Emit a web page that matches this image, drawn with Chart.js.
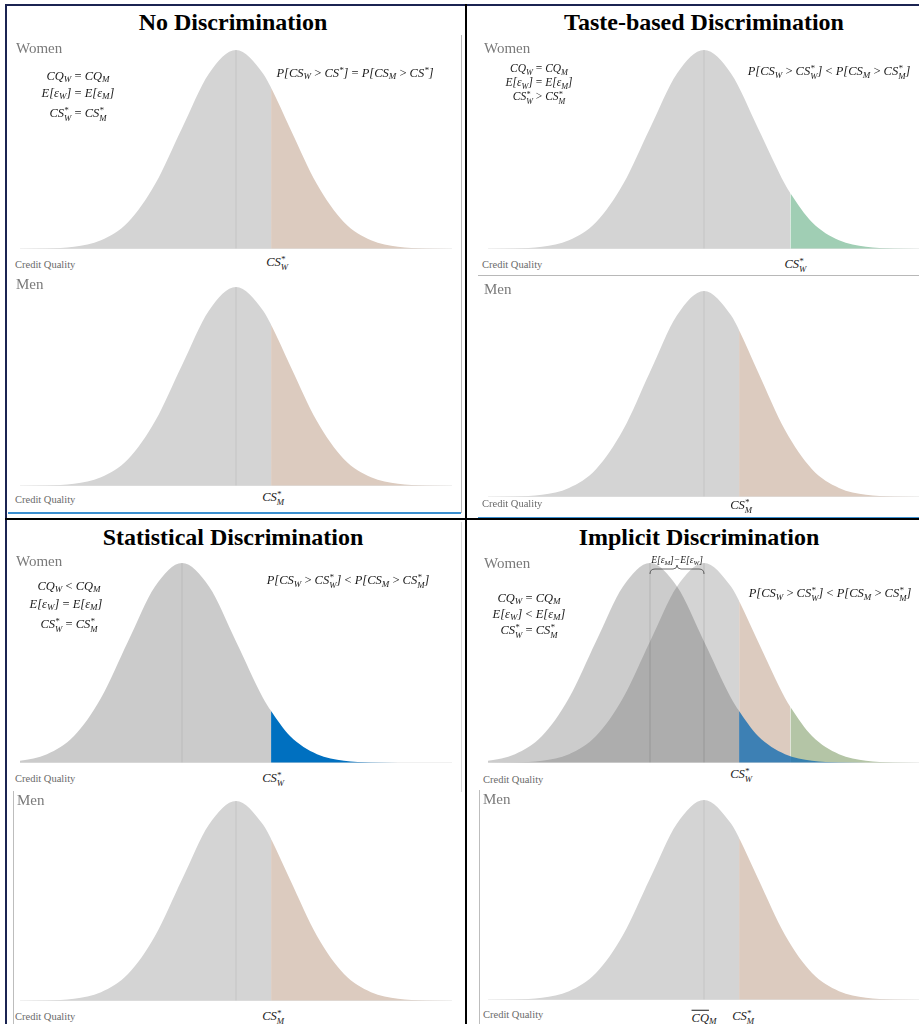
<!DOCTYPE html>
<html>
<head>
<meta charset="utf-8">
<script src="https://cdn.jsdelivr.net/npm/chart.js@4.4.1/dist/chart.umd.min.js"></script>
<style>
  body { margin: 0; background: #fff; }
  #fig { position: relative; width: 919px; height: 1024px; overflow: hidden; font-family: "Liberation Serif", serif; }
  #fig canvas { position: absolute; }
  .title { position: absolute; font-weight: bold; font-size: 24px; color: #000; transform: translateX(-50%); white-space: nowrap; line-height: 1; }
  .grp { position: absolute; font-size: 15px; color: #7a7a7a; line-height: 1; }
  .cq { position: absolute; font-size: 10.5px; color: #6a6a6a; line-height: 1; white-space: nowrap; }
  .math { position: absolute; font-style: italic; font-size: 12.5px; color: #1a1a1a; white-space: nowrap; line-height: 1; transform: translate(-50%, -50%); }
  .math sub { font-size: 0.72em; vertical-align: -0.3em; line-height: 0; }
  .math sup { font-size: 0.72em; vertical-align: 0.45em; line-height: 0; }
  .math .op { font-style: normal; }
  .small { font-size: 11.5px; }
  .ss { display: inline-block; font-size: 0.7em; line-height: 0.9; vertical-align: -0.45em; text-align: left; }
  .line { position: absolute; }
</style>
</head>
<body>
<div id="fig"></div>
<script>
// shape of the bell curves (height relative to the peak)
const gridZ = [-4, -3.5, -3, -2.5, -2, -1.5, -1, -0.5, 0, 0.5, 1, 1.5, 2, 2.5, 3, 3.5, 4];
const bellHeight = [0.000, 0.002, 0.011, 0.044, 0.135, 0.325, 0.607, 0.882, 1.000, 0.882, 0.607, 0.325, 0.135, 0.044, 0.011, 0.002, 0.000];

// thresholds on the credit quality axis (0 = men's mean)
const csMen = 0.65;
const csWomenTaste = 1.6;
const meanWomenStat = -1.0;
const meanWomenImplicit = -1.0;

// curve heights read at the thresholds
const hCentredAtCsMen = 0.81;
const hCentredAtCsTaste = 0.28;
const hShiftedAtCsMen = 0.26;

const gray = '#d4d4d4';
const grayDark = '#cbcbcb';
const tan = '#dccbbf';
const green = '#a0ceb4';
const blue = '#0070c0';

const fig = document.getElementById('fig');

function mathHtml(s) {
  return s
    .replace(/\^\*_([WM])/g, '<span class="ss">*<br>$1</span>')
    .replace(/\^\*/g, '<sup>*</sup>')
    .replace(/_([WM])/g, '<sub>$1</sub>')
    .replace(/ (=|&lt;|&gt;) /g, ' <span class="op">$1</span> ');
}

function addDiv(cls, html, style) {
  const d = document.createElement('div');
  d.className = cls;
  d.innerHTML = html;
  Object.assign(d.style, style);
  fig.appendChild(d);
  return d;
}

function curvePoints(mean, cuts) {
  const pts = gridZ.map((z, i) => ({ x: z + mean, y: bellHeight[i] }));
  cuts.forEach(c => pts.push({ x: c.x, y: c.h }));
  return pts.sort((a, b) => a.x - b.x);
}

function bandColor(bands, x) {
  let c = bands[0].color;
  bands.forEach(b => { if (x >= b.from - 1e-9) c = b.color; });
  return c;
}

function drawPanel(box, curves, means) {
  const cv = document.createElement('canvas');
  cv.width = 432;
  cv.height = box.base - box.peak + 4;
  cv.style.left = box.left + 'px';
  cv.style.top = (box.peak - 2) + 'px';
  fig.appendChild(cv);

  const datasets = [];
  datasets.push({ data: [{ x: -4, y: 0 }, { x: 4, y: 0 }], borderColor: '#e2e2e2', borderWidth: 1, pointRadius: 0, fill: false, order: 0 });
  means.forEach(m => datasets.push({
    data: [{ x: m, y: 0 }, { x: m, y: 1 }], borderColor: box.meanColor || 'rgba(0,0,0,0.07)', borderWidth: 1, pointRadius: 0, fill: false, order: 1
  }));
  curves.forEach((c, k) => datasets.push({
    data: c.points,
    backgroundColor: c.bands[0].color,
    borderWidth: 0,
    pointRadius: 0,
    fill: 'origin',
    cubicInterpolationMode: 'monotone',
    order: 2 + k,
    segment: { backgroundColor: ctx => bandColor(c.bands, ctx.p0.parsed.x) }
  }));

  return new Chart(cv, {
    type: 'line',
    data: { datasets },
    options: {
      responsive: false,
      animation: false,
      events: [],
      layout: { padding: { top: 2, bottom: 2, left: 0, right: 0 } },
      scales: {
        x: { type: 'linear', min: -4, max: 4, display: false },
        y: { min: 0, max: 1, display: false }
      },
      plugins: { legend: { display: false }, tooltip: { enabled: false } }
    }
  });
}

function axisLabel(chart, box, value, text, dx) {
  const px = box.left + chart.scales.x.getPixelForValue(value) + (dx || 0);
  addDiv('math', mathHtml(text), { left: px + 'px', top: box.labelY + 'px' });
}

// frame lines
[
  { l: 5, t: 4, w: 914, h: 2, c: '#1b2452' },
  { l: 5, t: 4, w: 2, h: 1020, c: '#1b2452' },
  { l: 465, t: 4, w: 2, h: 1020, c: '#000' },
  { l: 5, t: 518, w: 914, h: 2, c: '#000' },
  { l: 461, t: 35, w: 1, h: 478, c: '#b8b8b8' },
  { l: 8, t: 512, w: 453, h: 2, c: '#3b8fd0' },
  { l: 478, t: 275, w: 441, h: 1, c: '#b8b8b8' },
  { l: 478, t: 517, w: 441, h: 1, c: '#3b8fd0' },
  { l: 461, t: 522, w: 1, h: 270, c: '#d8d8d8' },
  { l: 13, t: 791, w: 1, h: 233, c: '#bdbdbd' },
  { l: 479, t: 790, w: 1, h: 234, c: '#bdbdbd' }
].forEach(s => addDiv('line', '', { left: s.l + 'px', top: s.t + 'px', width: s.w + 'px', height: s.h + 'px', background: s.c }));

// titles
addDiv('title', 'No Discrimination', { left: '233px', top: '10px' });
addDiv('title', 'Taste-based Discrimination', { left: '704px', top: '10px' });
addDiv('title', 'Statistical Discrimination', { left: '233px', top: '525px' });
addDiv('title', 'Implicit Discrimination', { left: '699px', top: '525px' });

// ---------- No discrimination ----------
const b1 = { left: 20, peak: 50, base: 249, labelY: 264 };
const c1 = drawPanel(b1, [{ points: curvePoints(0, [{ x: csMen, h: hCentredAtCsMen }]), bands: [{ from: -9, color: gray }, { from: csMen, color: tan }] }], [0]);
axisLabel(c1, b1, csMen, 'CS^*_W', 6);
const b2 = { left: 20, peak: 287, base: 486, labelY: 499 };
const c2 = drawPanel(b2, [{ points: curvePoints(0, [{ x: csMen, h: hCentredAtCsMen }]), bands: [{ from: -9, color: gray }, { from: csMen, color: tan }] }], [0]);
axisLabel(c2, b2, csMen, 'CS^*_M', 2);

addDiv('grp', 'Women', { left: '16px', top: '41px' });
addDiv('cq', 'Credit Quality', { left: '15px', top: '260px' });
addDiv('grp', 'Men', { left: '16px', top: '277px' });
addDiv('cq', 'Credit Quality', { left: '15px', top: '495px' });
addDiv('math', mathHtml('CQ_W = CQ_M'), { left: '78px', top: '76px' });
addDiv('math', mathHtml('E[ε_W] = E[ε_M]'), { left: '78px', top: '93px' });
addDiv('math', mathHtml('CS^*_W = CS^*_M'), { left: '78px', top: '115px' });
addDiv('math', mathHtml('P[CS_W &gt; CS^*] = P[CS_M &gt; CS^*]'), { left: '355px', top: '73px' });

// ---------- Taste-based ----------
const b3 = { left: 488, peak: 50, base: 249, labelY: 266 };
const c3 = drawPanel(b3, [{ points: curvePoints(0, [{ x: csWomenTaste, h: hCentredAtCsTaste }]), bands: [{ from: -9, color: gray }, { from: csWomenTaste, color: green }] }], [0]);
axisLabel(c3, b3, csWomenTaste, 'CS^*_W', 5);
const b4 = { left: 488, peak: 291, base: 497, labelY: 507 };
const c4 = drawPanel(b4, [{ points: curvePoints(0, [{ x: csMen, h: hCentredAtCsMen }]), bands: [{ from: -9, color: gray }, { from: csMen, color: tan }] }], [0]);
axisLabel(c4, b4, csMen, 'CS^*_M', 2);

addDiv('grp', 'Women', { left: '484px', top: '41px' });
addDiv('cq', 'Credit Quality', { left: '482px', top: '260px' });
addDiv('grp', 'Men', { left: '484px', top: '282px' });
addDiv('cq', 'Credit Quality', { left: '482px', top: '499px' });
addDiv('math small', mathHtml('CQ_W = CQ_M'), { left: '539px', top: '69px' });
addDiv('math small', mathHtml('E[ε_W] = E[ε_M]'), { left: '539px', top: '83px' });
addDiv('math small', mathHtml('CS^*_W &gt; CS^*_M'), { left: '539px', top: '98px' });
addDiv('math', mathHtml('P[CS_W &gt; CS^*_W] &lt; P[CS_M &gt; CS^*_M]'), { left: '829px', top: '73px' });

// ---------- Statistical ----------
const b5 = { left: 20, peak: 563, base: 763, labelY: 780 };
const c5 = drawPanel(b5, [{ points: curvePoints(meanWomenStat, [{ x: csMen, h: hShiftedAtCsMen }]), bands: [{ from: -9, color: grayDark }, { from: csMen, color: blue }] }], [meanWomenStat]);
axisLabel(c5, b5, csMen, 'CS^*_W', 2);
const b6 = { left: 20, peak: 801, base: 1001, labelY: 1018 };
const c6 = drawPanel(b6, [{ points: curvePoints(0, [{ x: csMen, h: hCentredAtCsMen }]), bands: [{ from: -9, color: gray }, { from: csMen, color: tan }] }], [0]);
axisLabel(c6, b6, csMen, 'CS^*_M', 2);

addDiv('grp', 'Women', { left: '16px', top: '554px' });
addDiv('cq', 'Credit Quality', { left: '15px', top: '774px' });
addDiv('grp', 'Men', { left: '17px', top: '793px' });
addDiv('cq', 'Credit Quality', { left: '15px', top: '1012px' });
addDiv('math', mathHtml('CQ_W &lt; CQ_M'), { left: '69px', top: '586px' });
addDiv('math', mathHtml('E[ε_W] = E[ε_M]'), { left: '66px', top: '604px' });
addDiv('math', mathHtml('CS^*_W = CS^*_M'), { left: '69px', top: '626px' });
addDiv('math', mathHtml('P[CS_W &gt; CS^*_W] &lt; P[CS_M &gt; CS^*_M]'), { left: '348px', top: '582px' });

// ---------- Implicit ----------
const b7 = { left: 488, peak: 563, base: 763, labelY: 776, meanColor: 'rgba(0,0,0,0.12)' };
const c7 = drawPanel(b7, [
  { points: curvePoints(meanWomenImplicit, [{ x: csMen, h: hShiftedAtCsMen }]), bands: [{ from: -9, color: 'rgba(73,73,73,0.28)' }, { from: csMen, color: 'rgba(21,109,177,0.8)' }] },
  { points: curvePoints(0, [{ x: csMen, h: hCentredAtCsMen }, { x: csWomenTaste, h: hCentredAtCsTaste }]), bands: [{ from: -9, color: gray }, { from: csMen, color: tan }, { from: csWomenTaste, color: '#b4c5a6' }] }
], [meanWomenImplicit, 0]);
axisLabel(c7, b7, csMen, 'CS^*_W', 2);
const b8 = { left: 488, peak: 800, base: 1000, labelY: 1018 };
const c8 = drawPanel(b8, [{ points: curvePoints(0, [{ x: csMen, h: hCentredAtCsMen }]), bands: [{ from: -9, color: gray }, { from: csMen, color: tan }] }], [0]);
axisLabel(c8, b8, csMen, 'CS^*_M', 4);
axisLabel(c8, b8, 0, '<span style="text-decoration:overline">CQ</span>_M', 0);

addDiv('grp', 'Women', { left: '484px', top: '556px' });
addDiv('cq', 'Credit Quality', { left: '483px', top: '775px' });
addDiv('grp', 'Men', { left: '483px', top: '792px' });
addDiv('cq', 'Credit Quality', { left: '483px', top: '1010px' });
addDiv('math', mathHtml('CQ_W = CQ_M'), { left: '529px', top: '598px' });
addDiv('math', mathHtml('E[ε_W] &lt; E[ε_M]'), { left: '529px', top: '614px' });
addDiv('math', mathHtml('CS^*_W = CS^*_M'), { left: '529px', top: '632px' });
addDiv('math', mathHtml('P[CS_W &gt; CS^*_W] &lt; P[CS_M &gt; CS^*_M]'), { left: '830px', top: '595px' });

// brace over the gap between the two women's means
const m1 = b7.left + c7.scales.x.getPixelForValue(meanWomenImplicit);
const m0 = b7.left + c7.scales.x.getPixelForValue(0);
const mid = (m0 + m1) / 2;
const svgNS = 'http://www.w3.org/2000/svg';
const svg = document.createElementNS(svgNS, 'svg');
svg.setAttribute('width', '919');
svg.setAttribute('height', '1024');
svg.style.position = 'absolute';
svg.style.left = '0';
svg.style.top = '0';
const path = document.createElementNS(svgNS, 'path');
path.setAttribute('d', `M${m1},574 Q${m1},569 ${m1 + 5},569 L${mid - 4},569 Q${mid},569 ${mid},565 Q${mid},569 ${mid + 4},569 L${m0 - 5},569 Q${m0},569 ${m0},574`);
path.setAttribute('fill', 'none');
path.setAttribute('stroke', '#444');
path.setAttribute('stroke-width', '0.8');
svg.appendChild(path);
fig.appendChild(svg);
const braceLbl = addDiv('math', mathHtml('E[ε_M]−E[ε_W]'), { left: mid + 'px', top: '561px' });
braceLbl.style.fontSize = '9.5px';
</script>
</body>
</html>
